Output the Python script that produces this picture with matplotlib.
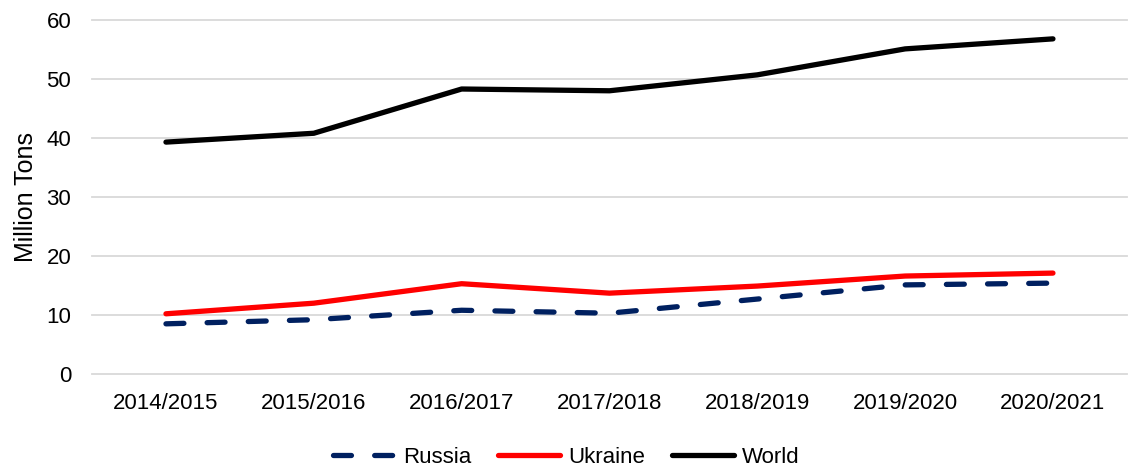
import matplotlib
matplotlib.use("Agg")
import matplotlib.pyplot as plt

seasons = ["2014/2015", "2015/2016", "2016/2017", "2017/2018",
           "2018/2019", "2019/2020", "2020/2021"]
russia = [8.5, 9.2, 10.8, 10.3, 12.7, 15.1, 15.4]
ukraine = [10.2, 12.0, 15.3, 13.7, 14.9, 16.6, 17.1]
world = [39.3, 40.8, 48.3, 48.0, 50.7, 55.1, 56.8]

plt.rcParams["font.family"] = ["Liberation Sans", "DejaVu Sans"]

fig = plt.figure(figsize=(11.28, 4.69), dpi=100)
ax = fig.add_axes([0.0816, 0.2026, 0.9174, 0.7548])

x = range(len(seasons))
ax.plot(x, russia, color="#002060", lw=3.8, dashes=(3.4, 4.4),
        dash_capstyle="round", label="Russia")
ax.plot(x, ukraine, color="#FF0000", lw=3.8, solid_capstyle="round",
        label="Ukraine")
ax.plot(x, world, color="black", lw=3.8, solid_capstyle="round",
        label="World")

ax.set_xlim(-0.5, len(seasons) - 0.5)
ax.set_ylim(0, 60)
ax.set_yticks(range(0, 61, 10))
ax.set_xticks(list(x))
ax.set_xticklabels(seasons)
ax.tick_params(axis="both", length=0, labelsize=16, colors="#000000")
ax.tick_params(axis="y", pad=15)
ax.tick_params(axis="x", pad=14)
ax.yaxis.grid(True, color="#d9d9d9", lw=1.3)
ax.set_axisbelow(True)
for s in ax.spines.values():
    s.set_visible(False)
ax.set_ylabel("Million Tons", fontsize=18, labelpad=6)
for ln in ax.get_ygridlines():
    ln.set_clip_on(False)

fig.legend(loc="lower center", bbox_to_anchor=(0.502, -0.04), ncol=3,
           frameon=False, fontsize=16, handlelength=2.8, handletextpad=0.35,
           columnspacing=1.2)

fig.savefig("out.png", dpi=100)
